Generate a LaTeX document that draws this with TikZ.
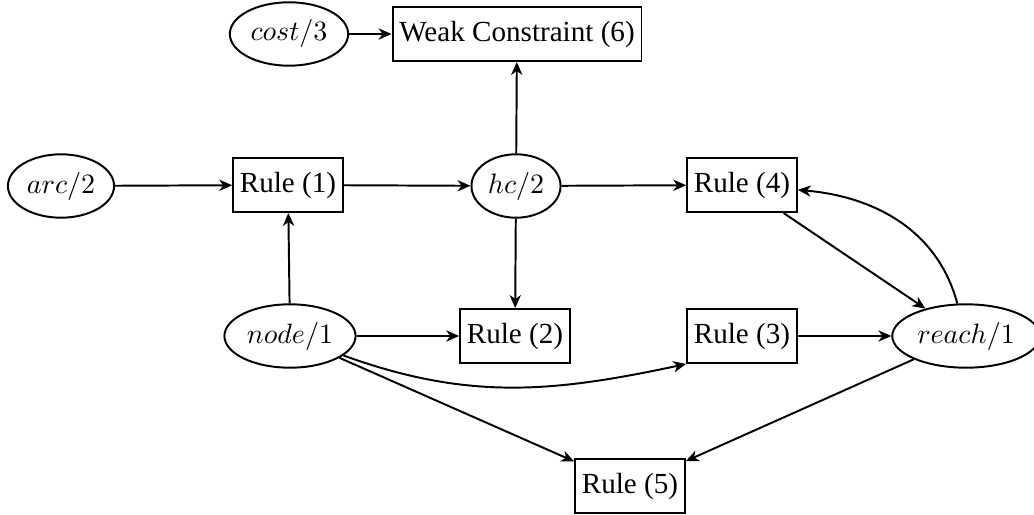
\documentclass[tikz,border=0pt]{standalone}
\usepackage{fontspec}
\setmainfont{Liberation Serif}
\usetikzlibrary{arrows.meta,shapes.geometric}

\tikzset{
  rulebox/.style={draw, rectangle, line width=0.7pt, inner xsep=2.4pt,
    minimum height=19.3pt, font=\fontsize{10.4}{12.5}\selectfont},
  pred/.style={draw, ellipse, line width=0.7pt, inner xsep=1.2pt, inner ysep=3pt},
  edge/.style={line width=0.7pt, -{Stealth[length=4.6pt,width=4pt,inset=1.4pt]}},
}

\begin{document}
\begin{tikzpicture}[x=0.357pt, y=0.357pt]
\useasboundingbox (0,0) rectangle (1034,514);

% predicates
\node[pred] (cost)  at (289,480) {$cost/3$};
\node[pred] (arc)   at (61,328)  {$arc/2$};
\node[pred] (hc)    at (516,328) {$hc/2$};
\node[pred] (nd)    at (290,178) {$node/1$};
\node[pred] (reach) at (966,178) {$reach/1$};

% rules
\node[rulebox] (weak) at (517,480) {Weak Constraint (6)};
\node[rulebox] (r1)   at (288,329) {Rule (1)};
\node[rulebox] (r4)   at (742,329) {Rule (4)};
\node[rulebox] (r2)   at (515,178) {Rule (2)};
\node[rulebox] (r3)   at (742,178) {Rule (3)};
\node[rulebox] (r5)   at (630,28)  {Rule (5)};

% dependencies
\draw[edge] (cost) -- (weak);
\draw[edge] (arc) -- (r1);
\draw[edge] (r1) -- (hc);
\draw[edge] (hc) -- (r4);
\draw[edge] (hc) -- (weak);
\draw[edge] (hc) -- (r2);
\draw[edge] (nd) -- (r1);
\draw[edge] (nd) -- (r2);
\draw[edge] (nd) to[out=-20, in=192] (r3.south west);
\draw[edge] (nd) -- (r5);
\draw[edge] (r3) -- (reach);
\draw[edge] (r4) -- (reach);
\draw[edge] (reach) to[out=105, in=-5] (r4);
\draw[edge] (reach) -- (r5);
\end{tikzpicture}
\end{document}
